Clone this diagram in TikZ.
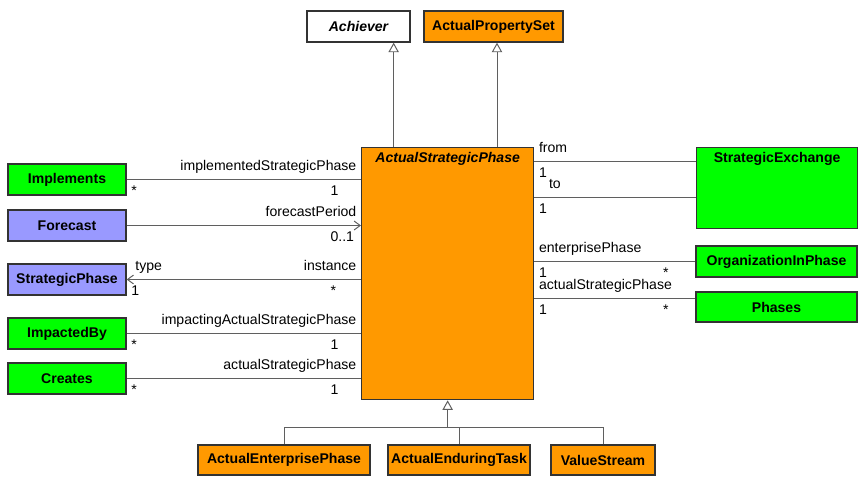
\documentclass[tikz,border=0pt]{standalone}
\usepackage{fontspec}
\setmainfont{Liberation Sans}
\usetikzlibrary{arrows.meta, positioning, calc}
\definecolor{umlgreen}{RGB}{0,255,0}
\definecolor{umlblue}{RGB}{153,153,255}
\definecolor{umlorange}{RGB}{255,153,0}
\definecolor{umlline}{RGB}{95,95,95}

\begin{document}
\begin{tikzpicture}[x=0.025cm, y=-0.025cm,
    every node/.style={font=\fontsize{10}{12}\selectfont},
    cls/.style={draw=black!80, line width=0.9pt, minimum height=0.775cm, inner sep=2pt,
      font=\fontsize{10}{12}\selectfont\bfseries},
    assoc/.style={draw=umlline, line width=0.7pt},
    gen/.style={assoc, -{Triangle[open, fill=white, width=0.26cm, length=0.24cm]}},
    nav/.style={assoc, -{Straight Barb[length=0.15cm, width=0.22cm]}},
    rolel/.style={anchor=base west, yshift=0.22cm, inner xsep=3pt, inner ysep=0.5pt},
    roler/.style={anchor=base east, yshift=0.22cm, inner xsep=3pt, inner ysep=0.5pt},
    mult/.style={anchor=base west, yshift=-0.41cm, inner xsep=3pt, inner ysep=0.5pt}]
  \useasboundingbox (0,0) rectangle (858,476);

  % superclasses
  \node[cls, fill=white, minimum width=2.575cm] (achv) at (358.5,26.5) {\itshape Achiever};
  \node[cls, fill=umlorange, minimum width=3.475cm] (aps) at (493.5,26.5) {ActualPropertySet};

  % central class
  \node[cls, fill=umlorange, minimum width=4.3cm, minimum height=6.3cm, anchor=north west] (asp) at (361,147) {};
  \node[anchor=north, font=\fontsize{10}{12}\selectfont\bfseries\itshape] (asptitle) at (asp.north) {ActualStrategicPhase};

  % left side
  \node[cls, fill=umlgreen, minimum width=2.95cm] (impl) at (67,179.5) {Implements};
  \node[cls, fill=umlblue, minimum width=2.95cm] (fc) at (67,225.5) {Forecast};
  \node[cls, fill=umlblue, minimum width=2.95cm] (sp) at (67,279.5) {StrategicPhase};
  \node[cls, fill=umlgreen, minimum width=2.95cm] (ib) at (67,333.5) {ImpactedBy};
  \node[cls, fill=umlgreen, minimum width=2.95cm] (cr) at (67,378.5) {Creates};

  % right side
  \node[cls, fill=umlgreen, minimum width=4.025cm, minimum height=2.025cm, anchor=north west] (sx) at (696,147) {};
  \node[anchor=north, font=\fontsize{10}{12}\selectfont\bfseries] (sxtitle) at (sx.north) {StrategicExchange};
  \node[cls, fill=umlgreen, minimum width=4.025cm] (oip) at (776.5,261.5) {OrganizationInPhase};
  \node[cls, fill=umlgreen, minimum width=4.025cm, minimum height=0.75cm] (ph) at (776.5,307) {Phases};

  % subclasses
  \node[cls, fill=umlorange, minimum width=4.3cm, minimum height=0.75cm] (aep) at (284,460) {ActualEnterprisePhase};
  \node[cls, fill=umlorange, minimum width=3.55cm, minimum height=0.75cm] (aet) at (459,460) {ActualEnduringTask};
  \node[cls, fill=umlorange, minimum width=2.6cm, minimum height=0.75cm] (vs) at (603,460) {ValueStream};

  % generalizations
  \coordinate (achvin) at ($(achv.south east)+(-17,0)$);
  \coordinate (apsin) at ($(aps.south)+(3.5,0)$);
  \coordinate (tree) at ($(asp.south)+(0,27)$);
  \draw[gen] (asp.north -| achvin) -- (achvin);
  \draw[gen] (asp.north -| apsin) -- (apsin);
  \draw[gen] (tree) -- (asp.south);
  \draw[assoc] (aep.north) |- (tree) -| (vs.north);
  \draw[assoc] (aet.north) -- (aet.north |- tree);

  % associations, left
  \draw[assoc] (impl.east) -- (impl.east -| asp.west)
    node[pos=1, roler] {implementedStrategicPhase}
    node[pos=0.85, mult] {1}
    node[pos=0, mult] {*};
  \draw[nav] (fc.east) -- (fc.east -| asp.west)
    node[pos=1, roler] {forecastPeriod}
    node[pos=0.85, mult] {0..1};
  \draw[nav] (sp.east -| asp.west) -- (sp.east)
    node[pos=0, roler] {instance}
    node[pos=0.15, mult] {*}
    node[pos=1, rolel, xshift=0.1cm] {type}
    node[pos=1, mult] {1};
  \draw[assoc] (ib.east) -- (ib.east -| asp.west)
    node[pos=1, roler] {impactingActualStrategicPhase}
    node[pos=0.85, mult] {1}
    node[pos=0, mult] {*};
  \draw[assoc] (cr.east) -- (cr.east -| asp.west)
    node[pos=1, roler] {actualStrategicPhase}
    node[pos=0.85, mult] {1}
    node[pos=0, mult] {*};

  % associations, right
  \coordinate (sxfrom) at ($(sx.north west)+(0,14)$);
  \coordinate (sxto) at ($(sx.north west)+(0,50)$);
  \coordinate (phin) at ($(ph.north west)+(0,7)$);
  \draw[assoc] (sxfrom -| asp.east) -- (sxfrom)
    node[pos=0, rolel] {from}
    node[pos=0, mult] {1};
  \draw[assoc] (sxto -| asp.east) -- (sxto)
    node[pos=0, rolel, xshift=0.25cm] {to}
    node[pos=0, mult] {1};
  \draw[assoc] (oip.west -| asp.east) -- (oip.west)
    node[pos=0, rolel] {enterprisePhase}
    node[pos=0, mult] {1}
    node[pos=0.77, mult] {*};
  \draw[assoc] (phin -| asp.east) -- (phin)
    node[pos=0, rolel] {actualStrategicPhase}
    node[pos=0, mult] {1}
    node[pos=0.77, mult] {*};
\end{tikzpicture}
\end{document}
